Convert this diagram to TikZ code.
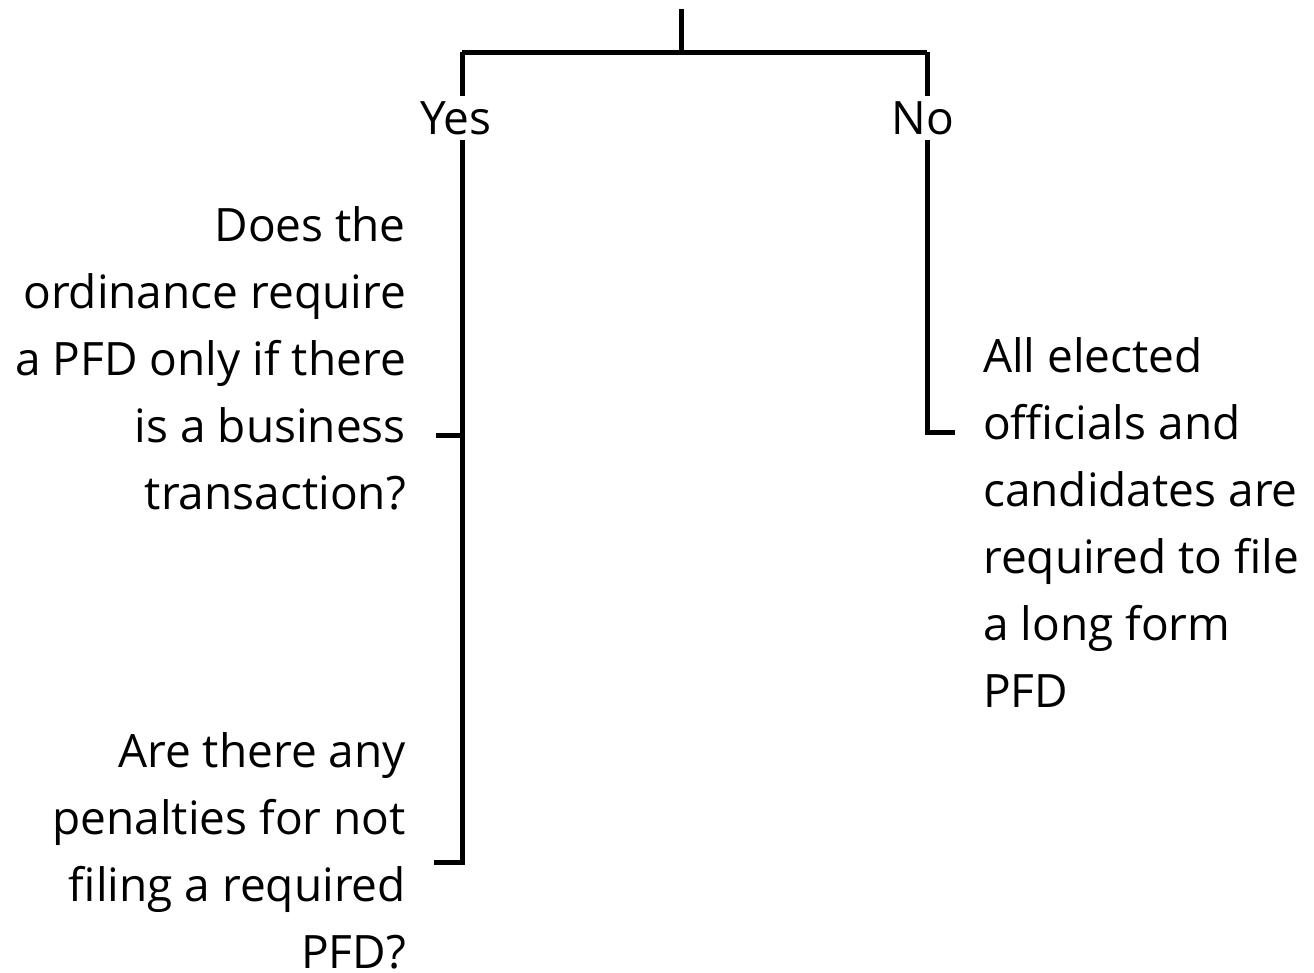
\documentclass[tikz,border=0pt]{standalone}
\usepackage{fontspec}
\setmainfont{Open Sans}
\usepackage{tikz}
\usetikzlibrary{positioning}

\begin{document}
\begin{tikzpicture}[x=1pt,y=1pt,
  every node/.style={font=\fontsize{46}{67}\selectfont, inner sep=0pt},
  branch/.style={line width=5pt},
  question/.style={align=right, anchor=north east},
  answer/.style={align=left, anchor=north west}]
  \useasboundingbox (0,0) rectangle (1314,-972);

  % Tree trunk and split
  \coordinate (root) at (681,-9);
  \coordinate (split) at (681,-52);
  \coordinate (yesTop) at (462,-52);
  \coordinate (noTop) at (927,-52);

  % Branch labels
  \node[inner sep=5pt] (yes) at (456,-118) {Yes};
  \node[inner sep=5pt] (no) at (923,-118) {No};

  % Questions and answer
  \node[question] (business) at (406,-206) {Does the\\ordinance require\\a PFD only if there\\is a business\\transaction?};
  \node[question] (penalty) at (406,-732) {Are there any\\penalties for not\\filing a required\\PFD?};
  \node[answer] (longform) at (983,-337) {All elected\\officials and\\candidates are\\required to file\\a long form\\PFD};

  % Free ends of the ticks
  \coordinate (q1) at (436,-435);
  \coordinate (q2) at (434,-862);
  \coordinate (a1) at (955,-432);

  % Connectors
  \draw[branch] (root) -- (split);
  \draw[branch] (yesTop) -- (noTop);
  \draw[branch] (yesTop) -- (yesTop |- yes.north);
  \draw[branch] (noTop) -- (noTop |- no.north);
  \draw[branch] (yesTop |- yes.south) |- (q2);
  \draw[branch] (q1) -- (q1 -| yesTop);
  \draw[branch] (noTop |- no.south) |- (a1);
\end{tikzpicture}
\end{document}
